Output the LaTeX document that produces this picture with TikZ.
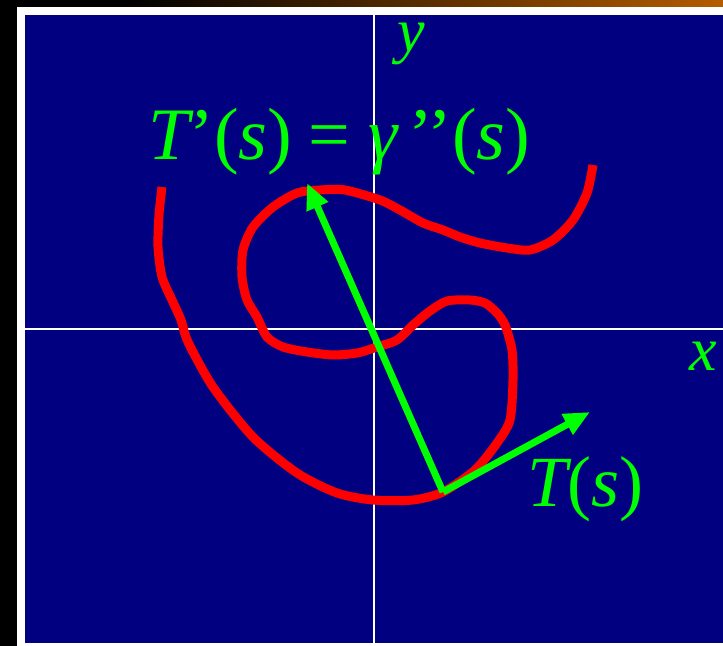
\documentclass[tikz,border=0pt]{standalone}
\usepackage{fontspec}
\setmainfont{Liberation Serif}
\usetikzlibrary{positioning, arrows.meta}
\definecolor{deepnavy}{RGB}{0,0,128}
\definecolor{brightgreen}{RGB}{0,255,0}
\definecolor{rim}{RGB}{180,92,0}

\begin{document}
\begin{tikzpicture}[x=0.5pt, y=-0.5pt,
    lbl/.style={text=brightgreen, inner sep=0pt, font=\fontsize{36}{40}\selectfont},
    axlbl/.style={lbl, font=\fontsize{31}{34}\selectfont\itshape},
    axis/.style={white, line width=1pt},
    curve/.style={red, line width=4.5pt, line join=round},
    vec/.style={brightgreen, line width=3.5pt, -{Triangle[length=13pt, width=11pt]}}]

  % slide background
  \fill[black] (0,0) rectangle (723,646);
  \shade[left color=black, right color=rim] (130,0) rectangle (723,7);
  \fill[white] (17,7) rectangle (723,646);
  \fill[deepnavy] (25,15) rectangle (723,643);
  \useasboundingbox (0,0) rectangle (723,646);

  % axes
  \draw[axis] (374,15) -- (374,643);
  \draw[axis] (25,329) -- (723,329);
  \node[axlbl, anchor=base west] (ylab) at (397,52) {y};
  \node[axlbl, anchor=base west] (xlab) at (689,371) {x};

  % the curve gamma
  \draw[curve] plot[smooth, tension=0.45] coordinates {
    (162,187) (159,215) (158,247) (162,277) (172,300) (181,320) (188,342)
    (213,387) (253,437) (297,473) (337,493) (373,500) (413,500) (443,492)
    (475,470) (497,443) (510,420) (513,380) (512,350) (505,325) (497,313)
    (485,303) (470,300) (447,301) (430,311) (413,325) (397,340) (377,347)
    (357,353) (333,355) (307,352) (283,347) (267,337) (257,317) (247,300)
    (242,277) (243,250) (253,227) (273,207) (297,193) (320,190) (345,190)
    (380,200) (400,210) (423,223) (443,230) (460,237) (480,243) (507,248)
    (530,250) (553,240) (573,220) (587,193) (593,165)};

  % tangent and its derivative
  \coordinate (pt) at (443,492);
  \coordinate (ttip) at (590,412);
  \coordinate (ntip) at (307,183);
  \draw[vec] (pt) -- (ttip);
  \draw[vec] (pt) -- (ntip);

  \node[lbl, anchor=base west] (tlab) at (527,507) {\itshape T\upshape(\itshape s\upshape)};
  \node[lbl, anchor=base west, font=\fontsize{37}{40}\selectfont] (eqn) at (148,160)
    {\itshape T\upshape’(\itshape s\upshape)\hskip.22em=\hskip.24em\itshape γ\kern.15em\upshape’’(\itshape s\upshape)};
\end{tikzpicture}
\end{document}
